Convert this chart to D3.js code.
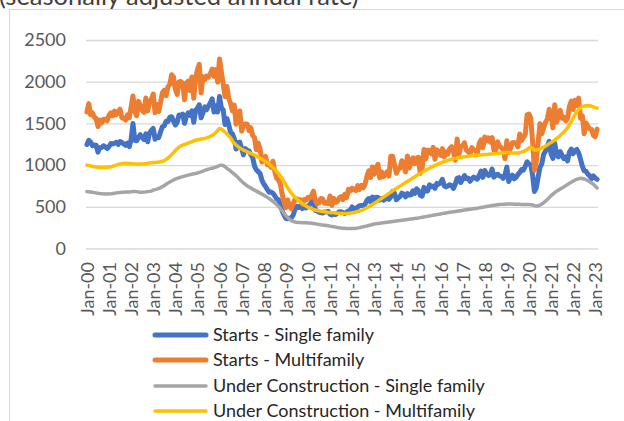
<!DOCTYPE html>
<html>
<head>
<meta charset="utf-8">
<script src="https://cdn.jsdelivr.net/npm/d3@7"></script>
<style>
  body { margin: 0; background: #fff; }
  svg { display: block; font-family: Lato, "Open Sans", sans-serif; }
</style>
</head>
<body>
<div id="chart"></div>
<script>
// tick labels on the category axis (one per January)
var yearLabels = ["Jan-00","Jan-01","Jan-02","Jan-03","Jan-04","Jan-05","Jan-06","Jan-07",
  "Jan-08","Jan-09","Jan-10","Jan-11","Jan-12","Jan-13","Jan-14","Jan-15","Jan-16","Jan-17",
  "Jan-18","Jan-19","Jan-20","Jan-21","Jan-22","Jan-23"];
var monthNames = ["Jan","Feb","Mar","Apr","May","Jun","Jul","Aug","Sep","Oct","Nov","Dec"];
var yTicks = [0, 500, 1000, 1500, 2000, 2500];

// monthly values, Jan-2000 .. Feb-2023 (thousands, SAAR)
var startsSingle = [
  1248,1297,1276,1232,1241,1238,1156,1207,1210,1232,1219,1199,
  1223,1258,1254,1262,1273,1247,1283,1270,1253,1237,1263,1221,
  1308,1498,1297,1291,1334,1364,1330,1307,1374,1280,1386,1416,
  1441,1310,1337,1330,1401,1460,1471,1525,1522,1574,1579,1530,
  1482,1512,1601,1596,1611,1501,1587,1627,1596,1652,1512,1657,
  1682,1723,1567,1629,1699,1665,1707,1744,1794,1637,1710,1636,
  1823,1687,1661,1487,1558,1484,1392,1375,1318,1193,1268,1275,
  1199,1123,1198,1177,1170,1125,1090,988,944,922,900,822,
  775,743,706,674,678,663,633,597,586,527,451,403,
  363,357,364,369,400,474,505,491,511,479,495,486,
  511,523,565,617,458,450,434,432,426,439,440,445,
  412,402,413,407,424,442,441,431,420,434,452,458,
  498,470,481,496,513,517,514,531,575,599,561,618,
  588,614,613,581,599,578,591,629,590,621,685,663,
  584,605,623,663,651,619,659,640,643,692,661,715,
  694,638,627,733,690,689,763,741,748,721,780,771,
  792,829,752,739,752,765,755,721,771,842,850,791,
  830,875,838,842,806,836,857,842,831,877,929,853,
  936,895,876,886,953,856,880,891,871,865,840,883,
  977,804,850,880,836,854,887,911,948,940,984,1040,
  1012,1006,876,684,727,857,971,1017,1132,1166,1229,1285,
  1136,1080,1263,1126,1099,1161,1114,1077,1098,1051,1156,1191,
  1136,1170,1189,1146,1072,986,933,924,892,872,838,870,
  846,830
];
var startsMulti = [
  1636,1737,1604,1626,1575,1559,1463,1541,1507,1549,1551,1532,
  1600,1625,1590,1649,1605,1636,1670,1567,1562,1540,1602,1568,
  1698,1829,1642,1592,1764,1717,1655,1633,1804,1648,1753,1788,
  1853,1629,1726,1643,1751,1867,1897,1833,1939,1967,2083,2057,
  1911,1846,1998,2003,1981,1784,1987,2006,1893,2056,1802,2042,
  2144,2207,1864,2061,2025,2068,2054,2095,2151,2065,2147,1994,
  2273,2119,1969,1821,1942,1802,1737,1650,1720,1491,1570,1649,
  1409,1480,1495,1490,1415,1448,1354,1330,1183,1264,1197,1037,
  1084,1103,1005,1013,973,1046,923,844,820,777,652,560,
  490,582,505,478,540,585,594,586,585,534,588,581,
  614,604,636,687,583,536,546,599,594,543,545,539,
  630,517,600,554,561,608,623,585,650,610,711,694,
  723,704,695,753,708,757,728,770,863,930,851,978,
  890,962,1010,847,919,860,883,919,870,1105,1105,1003,
  902,949,963,1053,1008,918,1110,966,1032,1088,1017,1082,
  1093,898,956,1186,1076,1180,1173,1136,1212,1070,1183,1157,
  1116,1197,1099,1158,1133,1197,1220,1165,1059,1314,1128,1225,
  1229,1268,1180,1163,1126,1209,1183,1172,1138,1260,1302,1210,
  1336,1290,1327,1276,1329,1177,1184,1280,1229,1209,1187,1077,
  1291,1147,1202,1267,1271,1261,1219,1373,1294,1333,1368,1603,
  1612,1564,1276,938,1046,1273,1497,1376,1448,1514,1552,1669,
  1625,1447,1725,1514,1594,1657,1562,1573,1530,1563,1706,1768,
  1666,1777,1716,1803,1562,1591,1377,1505,1463,1432,1427,1357,
  1340,1432
];
var underSingle = [
  682,680,677,674,670,666,662,659,657,655,654,654,
  655,657,660,663,667,670,672,674,675,676,677,678,
  680,683,684,682,678,675,674,676,679,682,685,688,
  702,706,712,720,730,742,756,770,784,798,810,822,
  832,840,848,855,862,868,874,880,886,891,896,900,
  905,912,920,928,936,944,952,958,963,968,975,985,
  995,1000,995,980,962,945,928,910,892,872,850,828,
  806,786,768,752,738,725,712,700,688,676,664,652,
  640,627,613,598,582,565,547,527,505,480,452,422,
  395,370,350,335,325,318,314,312,311,310,309,308,
  307,305,303,300,296,292,288,284,281,278,275,272,
  268,264,260,256,252,249,246,244,242,241,240,240,
  240,241,243,246,250,255,260,265,270,276,282,288,
  294,297,300,303,306,309,312,315,318,321,324,327,
  330,333,336,339,342,345,348,351,354,357,360,363,
  366,370,374,378,382,386,390,394,398,402,406,410,
  414,418,422,426,430,434,437,440,443,446,449,452,
  459,462,465,468,471,474,477,480,483,487,491,495,
  499,503,507,511,515,518,521,524,527,529,531,532,
  533,534,534,533,532,531,530,530,529,528,528,527,
  527,526,522,514,510,512,520,533,550,568,588,610,
  632,652,670,686,700,713,726,740,754,768,782,795,
  808,820,830,838,842,840,834,824,812,800,786,770,
  748,725
];
var underMulti = [
  1000,995,990,985,980,976,973,971,970,970,971,973,
  976,980,986,993,1000,1008,1014,1018,1020,1021,1020,1018,
  1016,1015,1014,1013,1012,1012,1014,1017,1020,1023,1026,1028,
  1030,1032,1034,1036,1040,1046,1055,1068,1085,1105,1127,1150,
  1175,1198,1216,1230,1240,1248,1256,1264,1272,1280,1290,1298,
  1304,1308,1312,1316,1320,1326,1334,1344,1356,1370,1390,1415,
  1440,1432,1415,1395,1372,1350,1328,1290,1262,1240,1222,1206,
  1192,1180,1170,1160,1150,1140,1130,1120,1108,1095,1082,1070,
  1058,1045,1030,1012,993,972,950,926,900,870,838,802,
  765,728,694,664,638,614,592,572,558,538,522,508,
  496,486,477,469,462,456,451,447,443,440,437,434,
  432,430,428,426,424,422,421,420,420,421,423,425,
  428,432,437,443,450,458,467,477,488,500,513,527,
  541,556,571,586,601,616,631,646,661,676,691,706,
  720,734,748,762,776,790,804,818,832,846,860,874,
  887,900,913,926,938,950,962,974,985,996,1006,1016,
  1025,1034,1042,1050,1057,1064,1070,1076,1081,1086,1090,1094,
  1098,1101,1104,1107,1110,1112,1114,1116,1118,1120,1122,1124,
  1126,1128,1130,1132,1134,1136,1138,1140,1142,1144,1146,1148,
  1150,1150,1148,1146,1144,1144,1146,1150,1156,1164,1174,1186,
  1205,1215,1200,1180,1178,1185,1195,1205,1215,1228,1242,1258,
  1270,1285,1300,1318,1336,1355,1376,1398,1420,1450,1485,1525,
  1565,1605,1640,1668,1688,1700,1708,1712,1714,1712,1706,1698,
  1690,1682
];

var seriesNames = ["Starts - Single family", "Starts - Multifamily",
  "Under Construction - Single family", "Under Construction - Multifamily"];
var seriesColors = ["#4472C4", "#ED7D31", "#A5A5A5", "#FFC000"];
var seriesWidths = [5, 5, 3.5, 3.5];
var seriesValues = [startsSingle, startsMulti, underSingle, underMulti];

// month categories built from the names above
var months = d3.range(startsSingle.length).map(function(i) {
  return monthNames[i % 12] + "-" + String(i / 12 | 0).padStart(2, "0");
});

var svgWidth = 624, svgHeight = 421;
var plot = { left: 86, right: 598, top: 40, bottom: 248.5 };

var svg = d3.select("#chart").append("svg")
  .attr("width", svgWidth)
  .attr("height", svgHeight);

svg.append("rect")
  .attr("width", svgWidth).attr("height", svgHeight)
  .attr("fill", "#fff");

// chart area border (runs off the right / bottom edges)
svg.append("rect")
  .attr("x", 9.5).attr("y", 9.5)
  .attr("width", 640).attr("height", 440)
  .attr("fill", "none")
  .attr("stroke", "#d9d9d9");

// title, only its lower half shows in the frame
svg.append("text")
  .attr("x", -1).attr("y", 5)
  .attr("fill", "#404040")
  .style("font-size", "25.5px")
  .text("(seasonally adjusted annual rate)");

var x = d3.scalePoint()
  .domain(months)
  .range([plot.left, plot.right])
  .padding(0.5);

var y = d3.scaleLinear()
  .domain([0, 2500])
  .range([plot.bottom, plot.top]);

// y axis + gridlines
var yAxis = svg.append("g")
  .attr("transform", `translate(${plot.left},0)`)
  .call(d3.axisLeft(y)
    .tickValues(yTicks)
    .tickFormat(d3.format("d"))
    .tickSize(-(plot.right - plot.left))
    .tickPadding(20));
yAxis.select(".domain").remove();
yAxis.selectAll("line").attr("stroke", "#d9d9d9").attr("stroke-width", 1.3);
yAxis.selectAll("text")
  .attr("fill", "#595959")
  .style("font-size", "18px")
  .style("font-family", "Lato, sans-serif");

// x axis: January of each year
var januaries = months.filter(function(m, i) { return i % 12 === 0; });
var xAxis = svg.append("g")
  .attr("transform", `translate(0,${plot.bottom})`)
  .call(d3.axisBottom(x)
    .tickValues(januaries)
    .tickSize(0)
    .tickFormat(function(d, i) { return yearLabels[i]; }));
xAxis.select(".domain").remove();
xAxis.selectAll("text")
  .attr("fill", "#595959")
  .style("font-size", "18px")
  .style("font-family", "Lato, sans-serif")
  .attr("text-anchor", "end")
  .attr("transform", "rotate(-90)")
  .attr("x", -13.5)
  .attr("y", 0)
  .attr("dy", "0.36em");

// series lines
var line = d3.line()
  .x(function(d, i) { return x(months[i]); })
  .y(function(d) { return y(d); });

seriesValues.forEach(function(vals, k) {
  svg.append("path")
    .datum(vals)
    .attr("fill", "none")
    .attr("stroke", seriesColors[k])
    .attr("stroke-width", seriesWidths[k])
    .attr("stroke-linejoin", "round")
    .attr("stroke-linecap", "round")
    .attr("d", line);
});

// legend
var legendY = [335, 360, 386, 411];
var legend = svg.append("g");
seriesNames.forEach(function(name, k) {
  legend.append("line")
    .attr("x1", 155).attr("x2", 206)
    .attr("y1", legendY[k]).attr("y2", legendY[k])
    .attr("stroke", seriesColors[k])
    .attr("stroke-width", seriesWidths[k])
    .attr("stroke-linecap", "round");
  legend.append("text")
    .attr("x", 213).attr("y", legendY[k])
    .attr("dy", "0.35em")
    .attr("fill", "#262626")
    .style("font-size", "18px")
    .text(name);
});
</script>
</body>
</html>
